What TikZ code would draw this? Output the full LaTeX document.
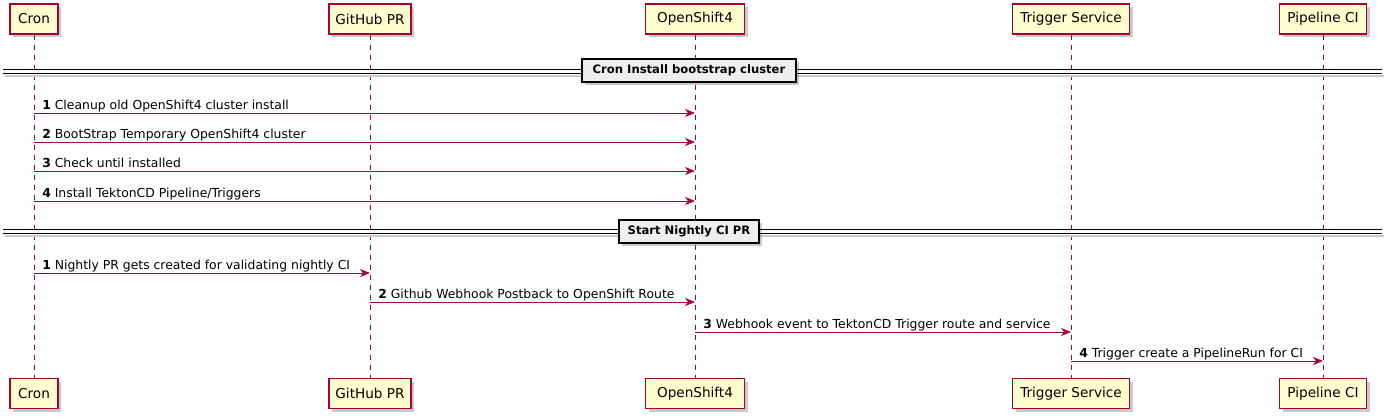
\documentclass[tikz,border=0pt]{standalone}
\usepackage{fontspec}
\setmainfont{DejaVu Sans}
\usetikzlibrary{arrows.meta,shadows,calc}
\newdimen\px \px=0.75pt
\definecolor{pborder}{HTML}{A80036}
\definecolor{pfill}{HTML}{FEFECE}
\definecolor{dfill}{HTML}{EEEEEE}
\begin{document}
\begin{tikzpicture}[x=0.75pt,y=-0.75pt,
 part/.style={draw=pborder, fill=pfill, line width=1.1\px, minimum height=30\px, inner sep=0pt,
   font=\fontsize{10.2}{12}\selectfont,
   drop shadow={shadow xshift=3\px,shadow yshift=-3\px,opacity=0.3,fill=black!70}},
 life/.style={draw=pborder, dash pattern=on 5\px off 5\px, line width=0.8\px},
 msg/.style={draw=pborder, line width=0.9\px, -{Stealth[length=7.5pt,width=6pt,inset=2.25pt]}},
 mlabel/.style={anchor=base west, inner sep=0pt, font=\fontsize{9.3}{11}\selectfont},
 divbox/.style={draw=black, fill=dfill, line width=1.6\px, minimum height=23\px, inner sep=0pt,
   font=\bfseries\fontsize{8.7}{10}\selectfont,
   drop shadow={shadow xshift=3\px,shadow yshift=-3\px,opacity=0.3,fill=black!70}},
 divline/.style={draw=black, line width=1\px},
 divshadow/.style={draw=black!20, line width=1.5\px},
]
\useasboundingbox (0,0) rectangle (1385,419);
% participants
\node[part, minimum width=48\px] (cronT) at (34,19) {Cron};
\node[part, minimum width=82\px] (ghT) at (370,19) {GitHub PR};
\node[part, minimum width=99\px] (osT) at (695,19) {OpenShift4};
\node[part, minimum width=117\px] (trT) at (1071,19) {Trigger Service};
\node[part, minimum width=87\px] (pcT) at (1323,19) {Pipeline CI};
\node[part, minimum width=48\px] (cronB) at (34,393.5) {Cron};
\node[part, minimum width=82\px] (ghB) at (370,393.5) {GitHub PR};
\node[part, minimum width=99\px] (osB) at (695,393.5) {OpenShift4};
\node[part, minimum width=117\px] (trB) at (1071,393.5) {Trigger Service};
\node[part, minimum width=87\px] (pcB) at (1323,393.5) {Pipeline CI};
% lifelines
\foreach \p in {cron,gh,os,tr,pc}{
  \draw[life] (\p T.south) -- (\p B.north);
}
% divider 1
\coordinate (d1l) at (3,71);
\coordinate (d1r) at (1382,71);
\draw[divshadow] ($(d1l)+(2,5)$) -- ($(d1r)+(2,5)$);
\draw[divline] ($(d1l)+(0,-2)$) -- ($(d1r)+(0,-2)$);
\draw[divline] ($(d1l)+(0,2)$) -- ($(d1r)+(0,2)$);
\node[divbox, minimum width=214\px] (div1) at (689,70.5) {Cron Install bootstrap cluster};
% divider 2
\coordinate (d2l) at (3,231);
\coordinate (d2r) at (1382,231);
\draw[divshadow] ($(d2l)+(2,5)$) -- ($(d2r)+(2,5)$);
\draw[divline] ($(d2l)+(0,-2)$) -- ($(d2r)+(0,-2)$);
\draw[divline] ($(d2l)+(0,2)$) -- ($(d2r)+(0,2)$);
\node[divbox, minimum width=140\px] (div2) at (689,231.5) {Start Nightly CI PR};
% messages group 1
\coordinate (m1) at (0,113);
\coordinate (m2) at (0,142);
\coordinate (m3) at (0,171);
\coordinate (m4) at (0,201);
\draw[msg] (cronT.south |- m1) -- (osT.south |- m1);
\draw[msg] (cronT.south |- m2) -- (osT.south |- m2);
\draw[msg] (cronT.south |- m3) -- (osT.south |- m3);
\draw[msg] (cronT.south |- m4) -- (osT.south |- m4);
\node[mlabel] (t1) at ($(cronT.south |- m1)+(8,-4)$) {\textbf{1} Cleanup old OpenShift4 cluster install};
\node[mlabel] (t2) at ($(cronT.south |- m2)+(8,-4)$) {\textbf{2} BootStrap Temporary OpenShift4 cluster};
\node[mlabel] (t3) at ($(cronT.south |- m3)+(8,-4)$) {\textbf{3} Check until installed};
\node[mlabel] (t4) at ($(cronT.south |- m4)+(8,-4)$) {\textbf{4} Install TektonCD Pipeline/Triggers};
% messages group 2
\coordinate (n1) at (0,273);
\coordinate (n2) at (0,302);
\coordinate (n3) at (0,332);
\coordinate (n4) at (0,361);
\draw[msg] (cronT.south |- n1) -- (ghT.south |- n1);
\draw[msg] (ghT.south |- n2) -- (osT.south |- n2);
\draw[msg] (osT.south |- n3) -- (trT.south |- n3);
\draw[msg] (trT.south |- n4) -- (pcT.south |- n4);
\node[mlabel] (u1) at ($(cronT.south |- n1)+(8,-4)$) {\textbf{1} Nightly PR gets created for validating nightly CI};
\node[mlabel] (u2) at ($(ghT.south |- n2)+(8,-4)$) {\textbf{2} Github Webhook Postback to OpenShift Route};
\node[mlabel] (u3) at ($(osT.south |- n3)+(8,-4)$) {\textbf{3} Webhook event to TektonCD Trigger route and service};
\node[mlabel] (u4) at ($(trT.south |- n4)+(8,-4)$) {\textbf{4} Trigger create a PipelineRun for CI};
\end{tikzpicture}
\end{document}
